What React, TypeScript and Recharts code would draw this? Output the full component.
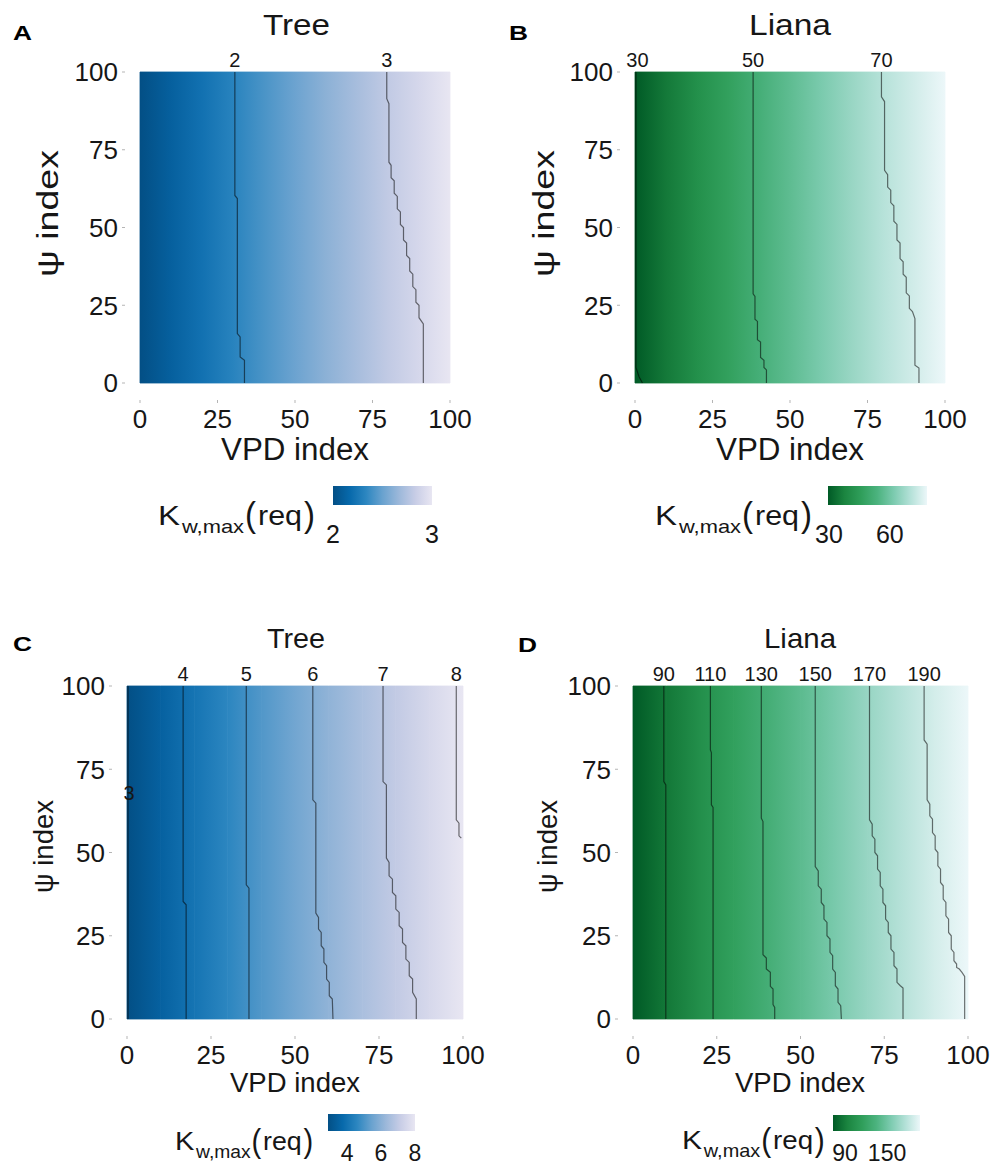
import React from 'react';
import { ScatterChart, Scatter, XAxis, YAxis, ReferenceArea } from 'recharts';

// ---------------- data ----------------
const vpdGrid = [0, 10, 20, 30, 40, 50, 60, 70, 80, 90, 100];
// K_w,max(req) read along the VPD axis (mid psi) for each panel
const kTreeA = [1.38, 1.58, 1.78, 1.97, 2.15, 2.33, 2.52, 2.7, 2.88, 3.06, 3.24];
const kLianaB = [29.7, 35.3, 40.6, 45.7, 50.9, 55.5, 59.9, 64.2, 68.2, 71.9, 75.6];
const kTreeC = [3.0, 3.59, 4.15, 4.68, 5.19, 5.67, 6.17, 6.63, 7.09, 7.57, 8.05];
const kLianaD = [76.4, 90.7, 105, 118.6, 131.7, 143.9, 155.5, 167, 178, 188.8, 198];

const axisTicks = [0, 25, 50, 75, 100];

// contour lines [VPD, psi]
const contourA2 = [[30.6, 100], [30.6, 60.3], [31.4, 59.3], [31.4, 15.9], [32.3, 14.8], [32.3, 8.4], [33.7, 7.3], [33.7, 0]];
const contourA3 = [[79.6, 100], [79.6, 91.4], [80.3, 89.8], [80.3, 71], [81, 70], [81, 66], [82, 65], [82, 61], [83, 60], [83, 56], [84, 55], [84, 51], [85, 50], [85, 46], [86, 45], [86, 41], [87, 40], [87, 36], [88, 35], [88, 31], [89, 30], [89, 26], [90, 25], [90, 21], [91.4, 19], [91.4, 0]];

const contourB30 = [[0.3, 100], [0.3, 5], [1.3, 2], [2.4, 0]];
const contourB50 = [[38.1, 100], [38.1, 28.7], [38.7, 27.8], [38.7, 20.5], [39.5, 19.8], [39.5, 13.9], [40.5, 13.2], [40.5, 8.2], [41.6, 7.3], [41.6, 5], [42.4, 4.2], [42.4, 0]];
const contourB70 = [[79.5, 100], [79.5, 92], [80.5, 90.5], [80.5, 68.4], [81.5, 67], [81.5, 63], [82.5, 62], [82.5, 58], [83.5, 57], [83.5, 52], [84.5, 51], [84.5, 46], [85.5, 45], [85.5, 40], [86.5, 39], [86.5, 35], [87.5, 34], [87.5, 29], [88.5, 28], [88.5, 24], [89.5, 23], [90.3, 20.7], [90.3, 5.7], [91.6, 4.8], [91.6, 0]];

const contourC3 = [[0.3, 100], [0.3, 0]];
const contourC4 = [[16.7, 100], [16.7, 35.3], [17.6, 34.3], [17.6, 0]];
const contourC5 = [[35.5, 100], [35.5, 40.3], [36.3, 39.3], [36.3, 0]];
const contourC6 = [[55.3, 100], [55.3, 65.8], [56.2, 64.8], [56.2, 31.8], [57, 30.5], [57, 27], [57.8, 26], [57.8, 22], [58.6, 21], [58.6, 17], [59.4, 16], [59.4, 12], [60.2, 11], [60.2, 7], [61.1, 6], [61.3, 0]];
const contourC7 = [[76.2, 100], [76.2, 71.3], [77.2, 70.3], [77.2, 48.3], [78, 47], [78, 43], [79, 42], [79, 38], [80, 37], [80, 33], [81, 32], [81, 28], [82, 27], [82, 23], [83, 22], [83, 18], [84, 17], [84, 13], [85, 12], [85, 8], [86.1, 6], [86.1, 0]];
const contourC8 = [[98, 100], [98, 59.8], [98.8, 58.8], [98.8, 55], [99.5, 54.3]];

const contourD90 = [[9.2, 100], [9.2, 71.3], [9.8, 70.3], [9.8, 0]];
const contourD110 = [[23.1, 100], [23.1, 80.8], [23.4, 80], [23.4, 64.3], [23.9, 63.5], [23.9, 0]];
const contourD130 = [[38.3, 100], [38.3, 60.3], [38.8, 59.3], [38.8, 19.3], [39.8, 18.3], [39.8, 15], [41, 14], [41, 9.8], [41.8, 9], [41.8, 4.3], [42.3, 3.5], [42.3, 0]];
const contourD150 = [[54.4, 100], [54.4, 45.8], [55.3, 44.5], [55.3, 40], [56.2, 39], [56.2, 35], [57, 34], [57, 30], [57.9, 29], [57.9, 25], [58.8, 24], [58.8, 20], [59.6, 19], [59.6, 15], [60.4, 14], [60.4, 10], [61.2, 9], [61.2, 5], [62, 4], [62.2, 0]];
const contourD170 = [[70.6, 100], [70.6, 59.8], [71.4, 58.5], [71.4, 55], [72.2, 54], [72.2, 50], [73, 49], [73, 45], [73.8, 44], [73.8, 40], [74.6, 39], [74.6, 35], [75.4, 34], [75.4, 30], [76.2, 29], [76.2, 26], [77, 25], [77, 21], [77.9, 20], [77.9, 16], [78.8, 15], [78.8, 11], [79.8, 10], [80.6, 9.3], [80.6, 0]];
const contourD190 = [[86.9, 100], [86.9, 83.8], [87.8, 82.5], [87.8, 65.8], [88.6, 64.5], [88.6, 61], [89.4, 60], [89.4, 56], [90.2, 55], [90.2, 51], [91, 50], [91, 46], [91.8, 45], [91.8, 41], [92.6, 40], [92.6, 36], [93.4, 35], [93.4, 31], [94.2, 30], [94.2, 26], [95, 25], [95, 21], [95.8, 20], [95.8, 17.5], [96.6, 16.5], [96.6, 15.5], [97.4, 15], [98.2, 14], [99, 12.8], [99, 0]];

// contour labels: [VPD, psi, text]; psi 100 = written above the panel
const labelsA = [[30.6, 100, '2'], [79.6, 100, '3']];
const labelsB = [[0.8, 100, '30'], [38.1, 100, '50'], [79.5, 100, '70']];
const labelsC = [[16.7, 100, '4'], [35.5, 100, '5'], [55.3, 100, '6'], [76.2, 100, '7'], [98, 100, '8'], [0.6, 68, '3']];
const labelsD = [[9.2, 100, '90'], [23.1, 100, '110'], [38.3, 100, '130'], [54.4, 100, '150'], [70.6, 100, '170'], [86.9, 100, '190']];

// colour-bar legends
const legendTicksA = [2, 3];
const legendDomainA = [2, 3];
const legendTicksB = [30, 60];
const legendDomainB = [29.5, 78.3];
const legendTicksC = [4, 6, 8];
const legendDomainC = [2.88, 8.0];
const legendTicksD = [90, 150];
const legendDomainD = [72.9, 197];

const titles = ['Tree', 'Liana', 'Tree', 'Liana'];
const letters = ['A', 'B', 'C', 'D'];

// ---------------- styles ----------------
const FONT = '"Liberation Sans", Arial, Helvetica, sans-serif';
const TREE_PAL = ['#034f85', '#0769ab', '#2c86c0', '#69a2cf', '#9cb8da', '#c8cde6', '#e8e6f2'];
const LIANA_PAL = ['#005a26', '#1b8540', '#2f9e5a', '#4cb37f', '#7dcbb0', '#b4e1d8', '#ecf7f9'];
const TEXT = '#161616';

function hexRgb(c: string) {
  const n = parseInt(c.slice(1), 16);
  return [(n >> 16) & 255, (n >> 8) & 255, n & 255];
}
function palColor(stops: string[], t: number) {
  const tt = Math.max(0, Math.min(1, t));
  const p = tt * (stops.length - 1);
  const i = Math.min(Math.floor(p), stops.length - 2);
  const f = p - i;
  const a = hexRgb(stops[i]);
  const b = hexRgb(stops[i + 1]);
  const m = a.map((v, k) => Math.round(v + (b[k] - v) * f));
  return `rgb(${m.join(',')})`;
}

const toPts = (arr: number[][]) => arr.map(([x, y]) => ({ x, y }));
const toLabels = (arr: any[]) => arr.map(([x, y, text]) => ({ x, y, text }));

const panels = [
  {
    id: 'pa', left: 140, top: 72, w: 310, h: 311, values: kTreeA, pal: TREE_PAL,
    contours: [contourA2, contourA3], labels: labelsA, tickFs: 26,
    title: { cx: 296.5, by: 35, fs: 30, len: 67 },
    letter: { x: 13, by: 40 },
    xTitle: { cx: 295, by: 460, fs: 31, len: 148 },
    yTitle: { bx: 58, cy: 213.5, fs: 29, len: 127 },
    legend: { x: 333, y: 486, w: 99, h: 19, ticks: legendTicksA, domain: legendDomainA, tickBy: 543, tickFs: 25, tx: 158, tby: 525, s: 1 },
  },
  {
    id: 'pb', left: 635, top: 72, w: 310, h: 311, values: kLianaB, pal: LIANA_PAL,
    contours: [contourB30, contourB50, contourB70], labels: labelsB, tickFs: 26,
    title: { cx: 790, by: 35, fs: 30, len: 82 },
    letter: { x: 509, by: 40 },
    xTitle: { cx: 790, by: 460, fs: 31, len: 148 },
    yTitle: { bx: 554, cy: 213.5, fs: 29, len: 127 },
    legend: { x: 828, y: 486, w: 99, h: 19, ticks: legendTicksB, domain: legendDomainB, tickBy: 543, tickFs: 25, tx: 655, tby: 525, s: 1 },
  },
  {
    id: 'pc', left: 127, top: 686, w: 336, h: 333, values: kTreeC, pal: TREE_PAL,
    contours: [contourC3, contourC4, contourC5, contourC6, contourC7, contourC8], labels: labelsC, tickFs: 26,
    title: { cx: 296, by: 648, fs: 28, len: 58 },
    letter: { x: 13, by: 651 },
    xTitle: { cx: 295, by: 1092, fs: 27, len: 130 },
    yTitle: { bx: 53, cy: 846.5, fs: 27, len: 93 },
    legend: { x: 328, y: 1114, w: 87, h: 17, ticks: legendTicksC, domain: legendDomainC, tickBy: 1161, tickFs: 23, tx: 175, tby: 1150, s: 0.88 },
  },
  {
    id: 'pd', left: 633, top: 686, w: 335, h: 333, values: kLianaD, pal: LIANA_PAL,
    contours: [contourD90, contourD110, contourD130, contourD150, contourD170, contourD190], labels: labelsD, tickFs: 26,
    title: { cx: 800, by: 648, fs: 28, len: 72 },
    letter: { x: 518, by: 652 },
    xTitle: { cx: 800, by: 1092, fs: 27, len: 130 },
    yTitle: { bx: 557, cy: 846.5, fs: 27, len: 93 },
    legend: { x: 833, y: 1115, w: 87, h: 16, ticks: legendTicksD, domain: legendDomainD, tickBy: 1161, tickFs: 23, tx: 682, tby: 1149, s: 0.91 },
  },
];

const PAD_L = 100;
const PAD_T = 40;
const PAD_R = 45;
const PAD_B = 70;

const renderNone = () => <g />;

const makeXTick = (fs: number) => (props: any) => {
  const { x, y, payload } = props;
  return (
    <g>
      <line x1={x} x2={x} y1={y + 17} y2={y + 20} stroke="#b5b5b5" strokeWidth={1} />
      <text x={x} y={y + 45} textAnchor="middle" fontSize={fs} fontFamily={FONT} fill={TEXT}>
        {payload.value}
      </text>
    </g>
  );
};

const makeYTick = (fs: number) => (props: any) => {
  const { x, y, payload } = props;
  return (
    <g>
      <line x1={x - 18} x2={x - 15} y1={y} y2={y} stroke="#b5b5b5" strokeWidth={1} />
      <text x={x - 22} y={y + fs * 0.36} textAnchor="end" fontSize={fs} fontFamily={FONT} fill={TEXT}>
        {payload.value}
      </text>
    </g>
  );
};

const renderLabel = (props: any) => {
  const { cx, cy, payload } = props;
  const p = payload || props;
  const above = p.y >= 100;
  return (
    <text x={cx} y={above ? cy - 5 : cy + 7} textAnchor="middle" fontSize={20} fontFamily={FONT} fill={TEXT}>
      {p.text}
    </text>
  );
};

function Panel({ cfg }: { cfg: any }) {
  const vmin = Math.min(...cfg.values);
  const vmax = Math.max(...cfg.values);
  const col = (v: number) => palColor(cfg.pal, (v - vmin) / (vmax - vmin));
  const cells = vpdGrid.slice(0, -1).map((x0, i) => ({
    x1: x0,
    x2: vpdGrid[i + 1],
    c1: col(cfg.values[i]),
    c2: col(cfg.values[i + 1]),
  }));
  return (
    <div style={{ position: 'absolute', left: cfg.left - PAD_L, top: cfg.top - PAD_T }}>
      <ScatterChart
        width={cfg.w + PAD_L + PAD_R}
        height={cfg.h + PAD_T + PAD_B}
        margin={{ top: PAD_T, right: PAD_R, bottom: PAD_B - 60, left: PAD_L - 60 }}
      >
        <defs>
          {cells.map((c, i) => (
            <linearGradient key={i} id={`${cfg.id}-g${i}`} x1="0" y1="0" x2="1" y2="0">
              <stop offset="0%" stopColor={c.c1} />
              <stop offset="100%" stopColor={c.c2} />
            </linearGradient>
          ))}
        </defs>
        <XAxis
          type="number"
          dataKey="x"
          domain={[0, 100]}
          ticks={axisTicks}
          interval={0}
          height={60}
          axisLine={false}
          tickLine={false}
          tickSize={0}
          tickMargin={0}
          tick={makeXTick(cfg.tickFs)}
        />
        <YAxis
          type="number"
          dataKey="y"
          domain={[0, 100]}
          ticks={axisTicks}
          interval={0}
          width={60}
          axisLine={false}
          tickLine={false}
          tickSize={0}
          tickMargin={0}
          tick={makeYTick(cfg.tickFs)}
        />
        {cells.map((c, i) => (
          <ReferenceArea
            key={`cell${i}`}
            x1={c.x1}
            x2={c.x2}
            y1={0}
            y2={100}
            fill={`url(#${cfg.id}-g${i})`}
            fillOpacity={1}
            stroke={`url(#${cfg.id}-g${i})`}
            strokeWidth={0.8}
            strokeOpacity={1}
            ifOverflow="visible"
          />
        ))}
        {cfg.contours.map((c: number[][], i: number) => (
          <Scatter
            key={`ct${i}`}
            data={toPts(c)}
            fill="none"
            line={{ stroke: '#000', strokeOpacity: 0.55, strokeWidth: 1.2 }}
            shape={renderNone}
            isAnimationActive={false}
            legendType="none"
          />
        ))}
        <Scatter data={toLabels(cfg.labels)} fill="none" shape={renderLabel} isAnimationActive={false} legendType="none" />
      </ScatterChart>
    </div>
  );
}

function LegendText({ x, by, s }: { x: number; by: number; s: number }) {
  const parts = [
    { t: 'K', dx: 0, w: 22, fs: 27, dy: 0 },
    { t: 'w,max', dx: 24, w: 62, fs: 19, dy: 8 },
    { t: '(', dx: 87, w: 11, fs: 35, dy: 2 },
    { t: 'req', dx: 100, w: 44, fs: 27, dy: 0 },
    { t: ')', dx: 146, w: 11, fs: 35, dy: 2 },
  ];
  return (
    <g>
      {parts.map((p, i) => (
        <text
          key={i}
          x={x + p.dx * s}
          y={by + p.dy * (0.5 + 0.5 * s)}
          fontSize={p.fs * (0.6 + 0.4 * s)}
          fontFamily={FONT}
          fill={TEXT}
          textLength={p.w * s}
          lengthAdjust="spacingAndGlyphs"
        >
          {p.t}
        </text>
      ))}
    </g>
  );
}

function Overlay() {
  return (
    <svg width={992} height={1168} style={{ position: 'absolute', left: 0, top: 0, pointerEvents: 'none' }}>
      <defs>
        <linearGradient id="legTree" x1="0" y1="0" x2="1" y2="0">
          {TREE_PAL.map((c, i) => (
            <stop key={i} offset={`${(i / (TREE_PAL.length - 1)) * 100}%`} stopColor={c} />
          ))}
        </linearGradient>
        <linearGradient id="legLiana" x1="0" y1="0" x2="1" y2="0">
          {LIANA_PAL.map((c, i) => (
            <stop key={i} offset={`${(i / (LIANA_PAL.length - 1)) * 100}%`} stopColor={c} />
          ))}
        </linearGradient>
      </defs>
      {panels.map((p, k) => {
        const L = p.legend;
        return (
          <g key={p.id}>
            <text x={p.letter.x} y={p.letter.by} fontSize={21} fontWeight="bold" fontFamily={FONT} fill="#000" textLength={19} lengthAdjust="spacingAndGlyphs">
              {letters[k]}
            </text>
            <text x={p.title.cx} y={p.title.by} fontSize={p.title.fs} textAnchor="middle" fontFamily={FONT} fill={TEXT} textLength={p.title.len} lengthAdjust="spacingAndGlyphs">
              {titles[k]}
            </text>
            <text x={p.xTitle.cx} y={p.xTitle.by} fontSize={p.xTitle.fs} textAnchor="middle" fontFamily={FONT} fill={TEXT} textLength={p.xTitle.len} lengthAdjust="spacingAndGlyphs">
              VPD index
            </text>
            <text
              x={p.yTitle.bx}
              y={p.yTitle.cy}
              fontSize={p.yTitle.fs}
              textAnchor="middle"
              fontFamily={FONT}
              fill={TEXT}
              textLength={p.yTitle.len}
              lengthAdjust="spacingAndGlyphs"
              transform={`rotate(-90 ${p.yTitle.bx} ${p.yTitle.cy})`}
            >
              {'ψ index'}
            </text>
            <rect x={L.x} y={L.y} width={L.w} height={L.h} fill={k % 2 === 0 ? 'url(#legTree)' : 'url(#legLiana)'} />
            {L.ticks.map((t) => (
              <text
                key={t}
                x={L.x + ((t - L.domain[0]) / (L.domain[1] - L.domain[0])) * L.w}
                y={L.tickBy}
                fontSize={L.tickFs}
                textAnchor="middle"
                fontFamily={FONT}
                fill={TEXT}
              >
                {t}
              </text>
            ))}
            <LegendText x={L.tx} by={L.tby} s={L.s} />
          </g>
        );
      })}
    </svg>
  );
}

export default function App() {
  return (
    <div style={{ position: 'absolute', left: 0, top: 0, width: 992, height: 1168, background: '#fff', overflow: 'hidden' }}>
      {panels.map((p) => (
        <Panel key={p.id} cfg={p} />
      ))}
      <Overlay />
    </div>
  );
}
